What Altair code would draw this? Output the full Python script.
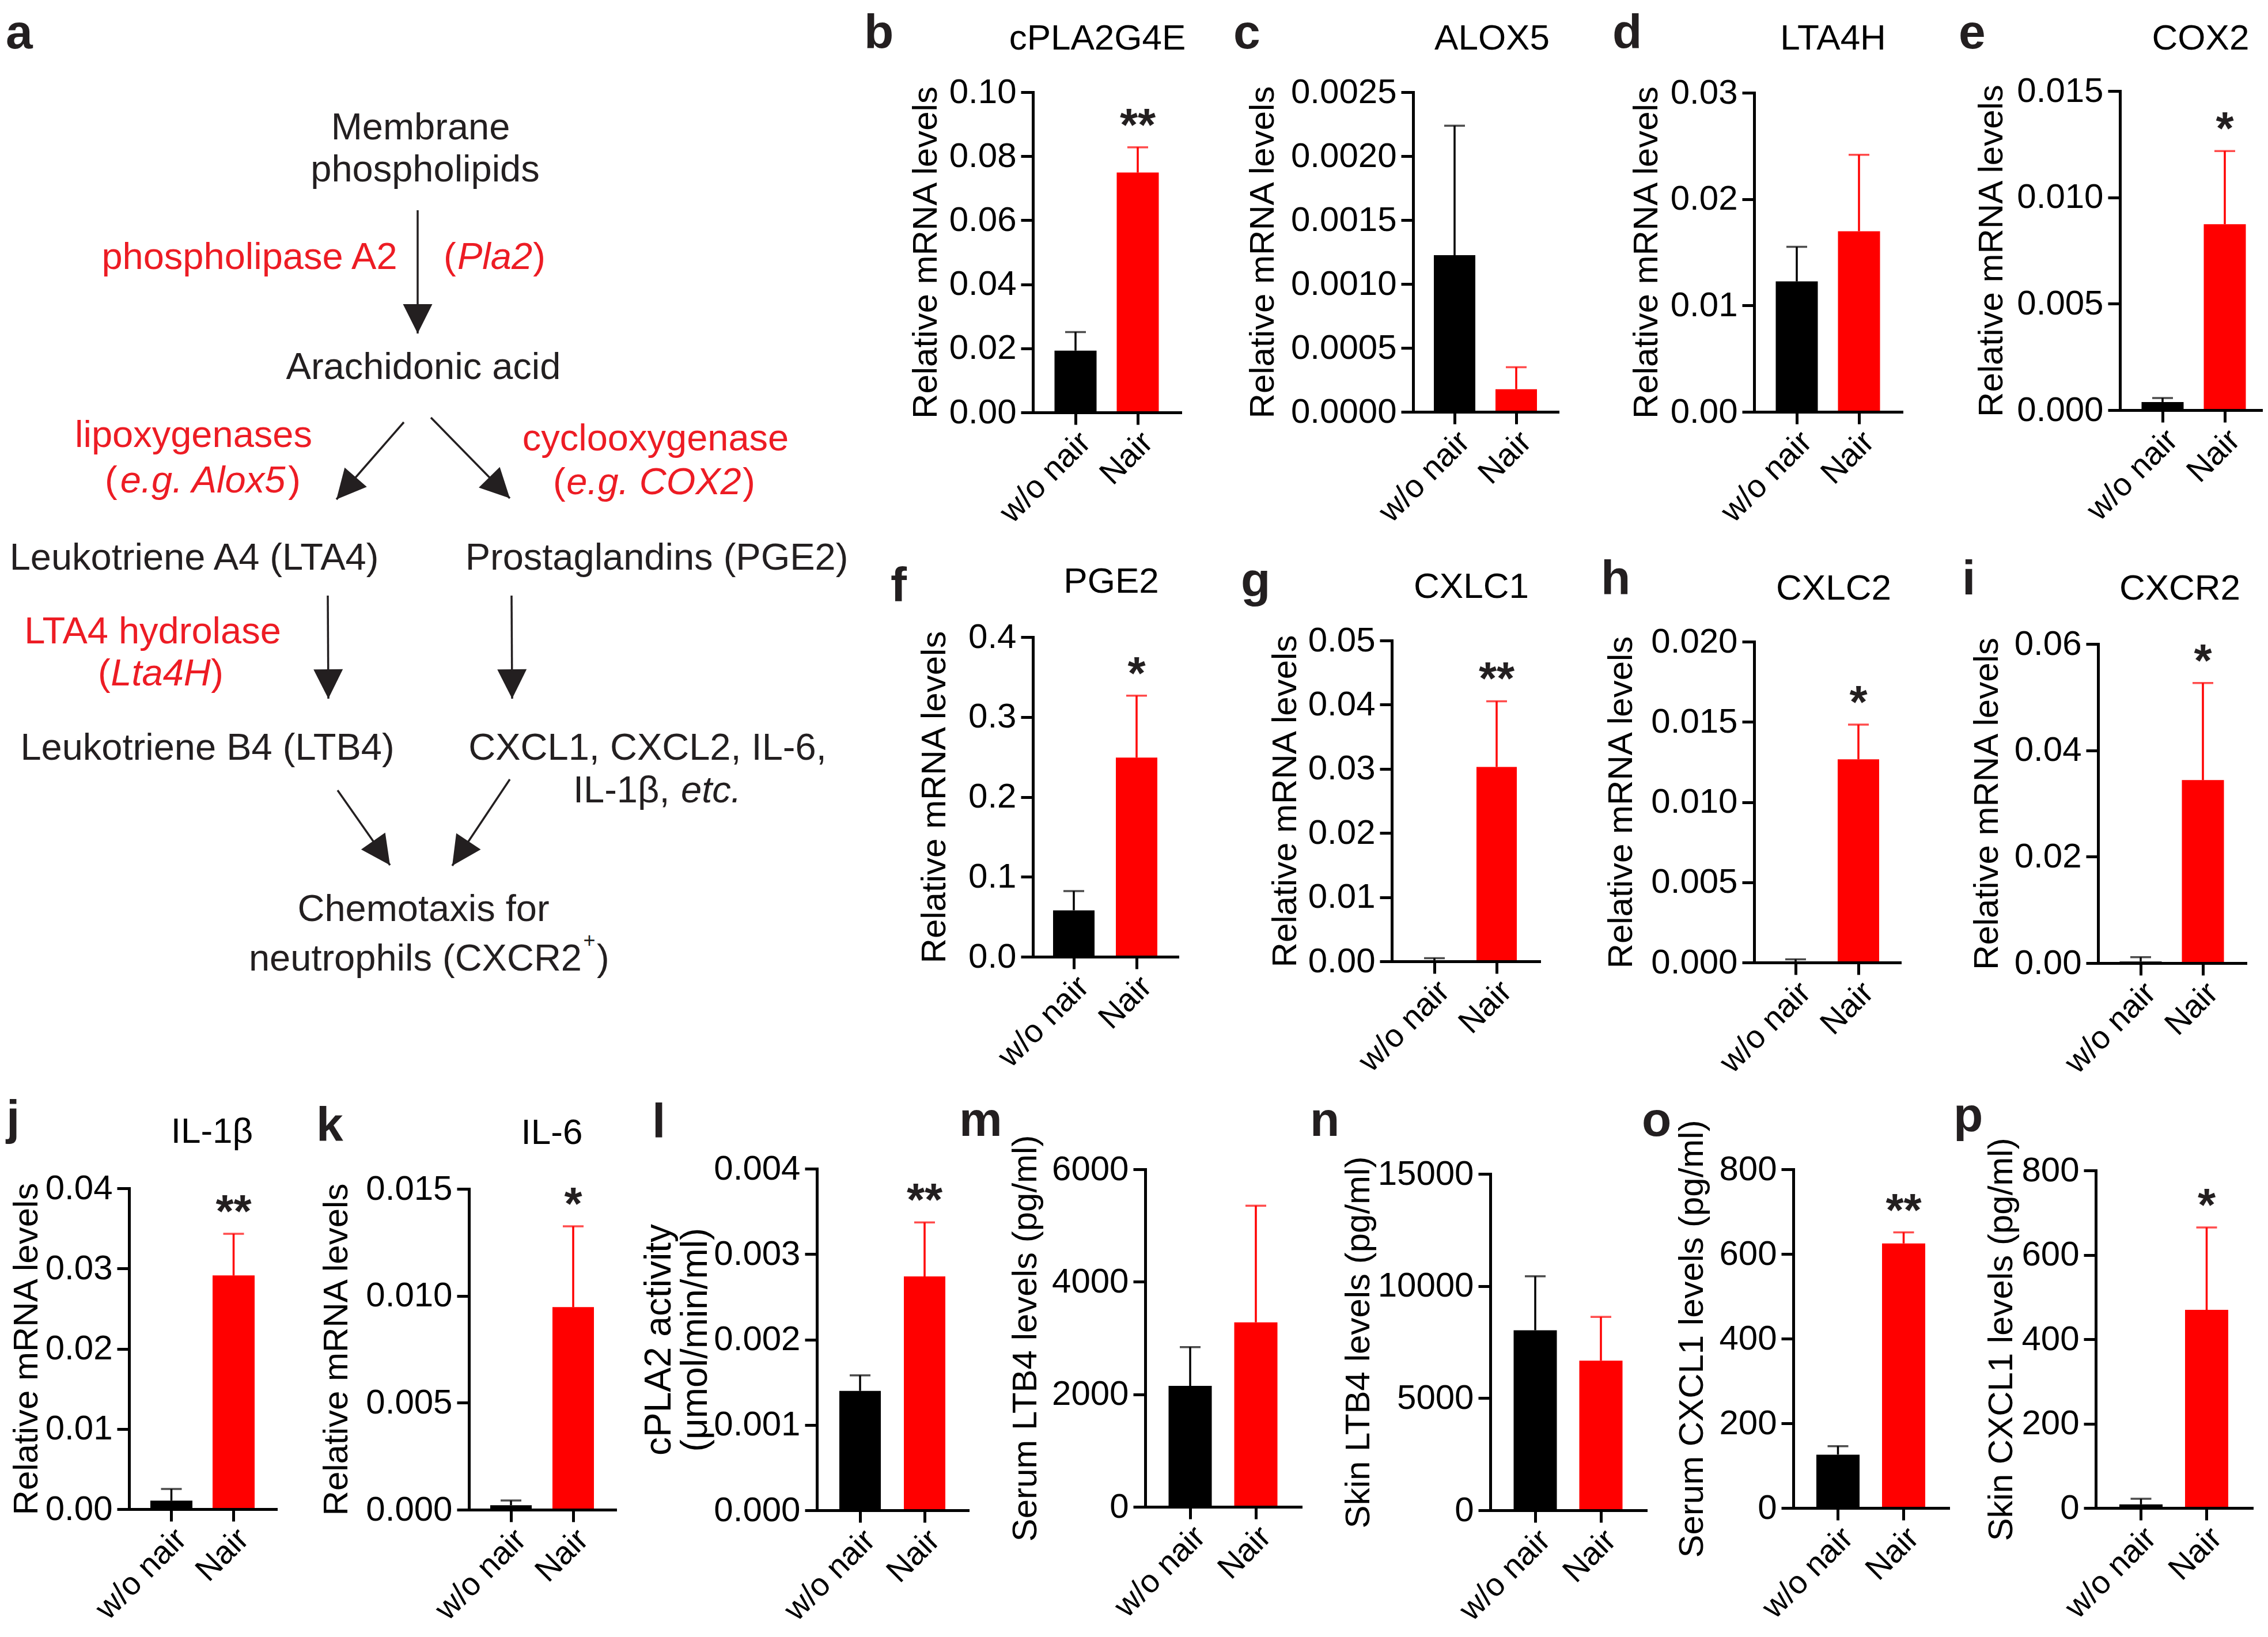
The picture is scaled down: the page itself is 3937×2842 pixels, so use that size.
import math
import altair as alt
import pandas as pd

# ================= data =================
groups = ["w/o nair", "Nair"]
panel_ids = ["b", "c", "d", "e", "f", "g", "h", "i", "j", "k", "l", "m", "n", "o", "p"]
gene_titles = ["cPLA2G4E", "ALOX5", "LTA4H", "COX2", "PGE2", "CXLC1", "CXLC2", "CXCR2",
               "IL-1β", "IL-6", "", "", "", "", ""]
y_titles = ["Relative mRNA levels"] * 10 + [
    ["cPLA2 activity", "(μmol/min/ml)"],
    "Serum LTB4 levels (pg/ml)",
    "Skin LTB4 levels (pg/ml)",
    "Serum CXCL1 levels (pg/ml)",
    "Skin CXCL1 levels (pg/ml)",
]
wo_mean = [0.0193, 0.001225, 0.01226, 0.00038, 0.0581, -0.0002, 0.00007, 0.0003,
           0.00106, 0.00021, 0.001398, 2149, 8027, 126, 8.4]
wo_top = [0.0251, 0.002238, 0.01551, 0.00057, 0.0822, 0.0005, 0.0002, 0.0011,
          0.00251, 0.00043, 0.00158, 2840, 10435, 146, 21.8]
nair_mean = [0.0749, 0.000177, 0.01698, 0.00874, 0.2492, 0.0303, 0.01267, 0.0344,
             0.02913, 0.00947, 0.002738, 3280, 6673, 625, 469.5]
nair_top = [0.0828, 0.000349, 0.02416, 0.01218, 0.3266, 0.04053, 0.01483, 0.05265,
            0.03432, 0.01325, 0.003371, 5353, 8625, 651, 665]
stars = ["**", "", "", "*", "*", "**", "*", "*", "**", "*", "**", "", "", "**", "*"]
y_ticks = [
    [0, 0.02, 0.04, 0.06, 0.08, 0.10],
    [0, 0.0005, 0.001, 0.0015, 0.002, 0.0025],
    [0, 0.01, 0.02, 0.03],
    [0, 0.005, 0.01, 0.015],
    [0, 0.1, 0.2, 0.3, 0.4],
    [0, 0.01, 0.02, 0.03, 0.04, 0.05],
    [0, 0.005, 0.01, 0.015, 0.02],
    [0, 0.02, 0.04, 0.06],
    [0, 0.01, 0.02, 0.03, 0.04],
    [0, 0.005, 0.01, 0.015],
    [0, 0.001, 0.002, 0.003, 0.004],
    [0, 2000, 4000, 6000],
    [0, 5000, 10000, 15000],
    [0, 200, 400, 600, 800],
    [0, 200, 400, 600, 800],
]
y_fmt = [".2f", ".4f", ".2f", ".3f", ".1f", ".2f", ".3f", ".2f", ".2f", ".3f", ".3f", "d", "d", "d", "d"]

# ================= layout / style (reference pixel frame) =================
OFF = 8
W, H = 3920, 2820
FONT = "Liberation Sans, Arial, Helvetica, sans-serif"
BLACK_T = "#231f20"
RED_T = "#ed1c24"
bar_colors = ["#000000", "#ff0000"]

ax_left = [1793, 2453, 3045, 3680, 1793, 2416, 3045, 3642, 224, 814, 1418, 1988, 2587, 3113, 3638]
ax_right = [2049, 2704, 3301, 3936, 2044, 2672, 3298, 3898, 479, 1068, 1680, 2258, 2857, 3382, 3909]
ax_top = [160, 160, 161, 158, 1106, 1112, 1114, 1118, 2063, 2064, 2029, 2030, 2038, 2030, 2032]
ax_bot = [716, 715, 715, 712, 1661, 1669, 1671, 1672, 2620, 2621, 2622, 2616, 2622, 2618, 2618]
bar_w = [73, 72, 73, 73, 72, 70, 72, 73, 73, 72, 72, 75, 75, 75, 75]
bar_step = [108, 107, 108, 108, 109, 108, 109, 108, 108, 108, 112, 114, 114, 114, 114]
ytitle_dx = [-186, -261, -187, -223, -171, -185, -231, -193, -178, -230, -274, -208, -229, -176, -164]
ytitle_size = [60] * 10 + [64, 60, 60, 60, 60]

letter_x = [1500, 2141, 2799, 3400, 1546, 2154, 2779, 3406, 11, 549, 1132, 1665, 2274, 2850, 3391]
letter_y = [84, 84, 84, 84, 1044, 1036, 1032, 1032, 1969, 1981, 1975, 1972, 1972, 1972, 1964]
title_x = [1905, 2590, 3182, 3820, 1929, 2554, 3183, 3784, 368, 958]
title_y = [86, 86, 86, 86, 1029, 1038, 1041, 1041, 1984, 1986]

# diagram (panel a) text items
d_text = ["Membrane", "phospholipids", "phospholipase A2", "(", "Pla2", ")",
          "Arachidonic acid", "lipoxygenases", "(", "e.g. Alox5", ")",
          "cyclooxygenase", "(", "e.g. COX2", ")",
          "Leukotriene A4 (LTA4)", "Prostaglandins (PGE2)",
          "LTA4 hydrolase", "(", "Lta4H", ")",
          "Leukotriene B4 (LTB4)", "CXCL1, CXCL2, IL-6,", "IL-1β,", "etc.",
          "Chemotaxis for", "neutrophils (CXCR2", "+", ")"]
d_x = [730, 738, 433, 770, 859, 947,
       735, 336, 182, 352, 522,
       1138, 960, 1135, 1311,
       337, 1140,
       265, 170, 279, 388,
       360, 1124, 995, 1182,
       735, 1010, 1023, 1036]
d_y = [242, 315, 467, 467, 467, 467,
       658, 776, 855, 855, 855,
       782, 858, 858, 858,
       989, 989,
       1117, 1190, 1190, 1190,
       1319, 1319, 1393, 1393,
       1599, 1685, 1645, 1685]
d_col = ["k", "k", "r", "r", "r", "r",
         "k", "r", "r", "r", "r",
         "r", "r", "r", "r",
         "k", "k",
         "r", "r", "r", "r",
         "k", "k", "k", "k",
         "k", "k", "k", "k"]
d_style = ["normal", "normal", "normal", "normal", "italic", "normal",
           "normal", "normal", "normal", "italic", "normal",
           "normal", "normal", "italic", "normal",
           "normal", "normal",
           "normal", "normal", "italic", "normal",
           "normal", "normal", "normal", "italic",
           "normal", "normal", "normal", "normal"]
d_align = ["center", "center", "center", "left", "center", "right",
           "center", "center", "left", "center", "right",
           "center", "left", "center", "right",
           "center", "center",
           "center", "left", "center", "right",
           "center", "center", "left", "left",
           "center", "right", "center", "left"]
d_size = [65] * 27 + [36, 65]

# arrows: start -> tip
arr_x = [725, 701, 748, 569, 888, 586, 885]
arr_y = [365, 733, 725, 1034, 1034, 1372, 1353]
arr_x2 = [725, 584, 885, 570, 889, 677, 785]
arr_y2 = [579, 867, 865, 1213, 1213, 1502, 1503]

# ================= build =================
xs_d = alt.Scale(domain=[OFF, OFF + W], range=[0, W], nice=False, zero=False)
ys_d = alt.Scale(domain=[OFF, OFF + H], range=[0, H], nice=False, zero=False)

items = []
for t, x, y, c, s, a, z in zip(d_text, d_x, d_y, d_col, d_style, d_align, d_size):
    items.append(dict(text=t, x=x, y=y, col=BLACK_T if c == "k" else RED_T,
                      style=s, weight="normal", align=a, size=z))
items.append(dict(text="a", x=10, y=84, col=BLACK_T, style="normal", weight="bold", align="left", size=84))
for pid, lx, ly in zip(panel_ids, letter_x, letter_y):
    items.append(dict(text=pid, x=max(lx, 10), y=ly, col=BLACK_T, style="normal", weight="bold",
                      align="left", size=84))
for t, x, y in zip(gene_titles, title_x, title_y):
    items.append(dict(text=t, x=x, y=y, col="#000000", style="normal", weight="normal", align="center", size=62))
items_df = pd.DataFrame(items)

text_layers = []
for (s, w, a, z), sub in items_df.groupby(["style", "weight", "align", "size"]):
    text_layers.append(
        alt.Chart(sub).mark_text(font=FONT, fontStyle=s, fontWeight=w, align=a,
                                 fontSize=float(z), baseline="alphabetic").encode(
            x=alt.X("x:Q", scale=xs_d, axis=None),
            y=alt.Y("y:Q", scale=ys_d, axis=None),
            text="text:N",
            color=alt.Color("col:N", scale=None),
        )
    )

arr_df = pd.DataFrame({"x": arr_x, "y": arr_y, "x2": arr_x2, "y2": arr_y2})
arr_df["angle"] = [
    (math.degrees(math.atan2(x2 - x1, -(y2 - y1))) + 360) % 360
    for x1, y1, x2, y2 in zip(arr_x, arr_y, arr_x2, arr_y2)
]
arrow_lines = alt.Chart(arr_df).mark_rule(strokeWidth=3.5, color=BLACK_T).encode(
    x=alt.X("x:Q", scale=xs_d, axis=None),
    y=alt.Y("y:Q", scale=ys_d, axis=None),
    x2="x2:Q",
    y2="y2:Q",
)
arrow_heads = alt.Chart(arr_df).mark_point(
    shape="M0,0L0.85,1.7L-0.85,1.7Z", size=3600, filled=True, color=BLACK_T,
    opacity=1, strokeWidth=0,
).encode(
    x=alt.X("x2:Q", scale=xs_d, axis=None),
    y=alt.Y("y2:Q", scale=ys_d, axis=None),
    angle=alt.Angle("angle:Q", scale=None),
)
diagram = alt.layer(arrow_lines, arrow_heads, *text_layers)

AX = dict(domainColor="black", domainWidth=5, tickColor="black", tickWidth=5, tickSize=21,
          labelColor="black", labelFont=FONT, grid=False, labelLimit=0,
          domainCap="square", zindex=1)


def make_panel(i):
    df = pd.DataFrame({
        "group": groups,
        "mean": [wo_mean[i], nair_mean[i]],
        "top": [wo_top[i], nair_top[i]],
        "star": ["", stars[i]],
        "col": bar_colors,
    })
    x0 = ax_left[i] - OFF
    x1 = ax_right[i] - OFF
    L = x1 - x0
    step = bar_step[i]
    pin = 1 - bar_w[i] / step
    pout = max(0.0, (L / step - 2 + pin) / 2)
    xs = alt.Scale(domain=groups, range=[x0, x1], paddingInner=pin, paddingOuter=pout)
    ys = alt.Scale(domain=[0, y_ticks[i][-1]], range=[ax_bot[i] - OFF, ax_top[i] - OFF], nice=False)
    xaxis = alt.Axis(orient="bottom", offset=(ax_bot[i] - OFF) - H, title=None,
                     labelAngle=315, labelAlign="right", labelBaseline="top",
                     labelPadding=3, labelOffset=-2, labelFontSize=56,
                     labelOverlap=False, **AX)
    yaxis = alt.Axis(orient="left", offset=-x0, values=y_ticks[i], format=y_fmt[i],
                     title=y_titles[i], titleX=ytitle_dx[i], titleAngle=270,
                     titleBaseline="middle", titleFont=FONT, titleFontSize=ytitle_size[i],
                     titleFontWeight="normal", titleColor="black", titleLineHeight=63,
                     titleLimit=2000, labelFontSize=60, labelPadding=8,
                     labelOverlap=False, **AX)
    base = alt.Chart(df)
    bars = base.mark_bar().encode(
        x=alt.X("group:N", scale=xs, axis=xaxis, sort=groups),
        y=alt.Y("mean:Q", scale=ys, axis=yaxis),
        color=alt.Color("col:N", scale=None),
    )
    err = base.mark_rule(strokeWidth=3.5).encode(
        x=alt.X("group:N", sort=groups), y="mean:Q", y2="top:Q",
        color=alt.Color("col:N", scale=None),
    )
    cap = base.mark_tick(thickness=3.5, size=36).encode(
        x=alt.X("group:N", sort=groups), y="top:Q",
        color=alt.Color("col:N", scale=None),
    )
    star = base.mark_text(font=FONT, fontSize=80, fontWeight="bold", baseline="alphabetic",
                          dy=-12, color=BLACK_T).encode(
        x=alt.X("group:N", sort=groups), y="top:Q", text="star:N",
    )
    return alt.layer(bars, err, cap, star)


panels = [make_panel(i) for i in range(len(panel_ids))]

chart = (
    alt.layer(diagram, *panels)
    .resolve_scale(x="independent", y="independent")
    .resolve_axis(x="independent", y="independent")
    .properties(width=W, height=H, autosize=alt.AutoSizeParams(type="none"),
                padding=0, background="white")
    .configure(font=FONT)
    .configure_view(stroke=None)
)

chart.save("out.html", embed_options={"renderer": "svg", "actions": False})
